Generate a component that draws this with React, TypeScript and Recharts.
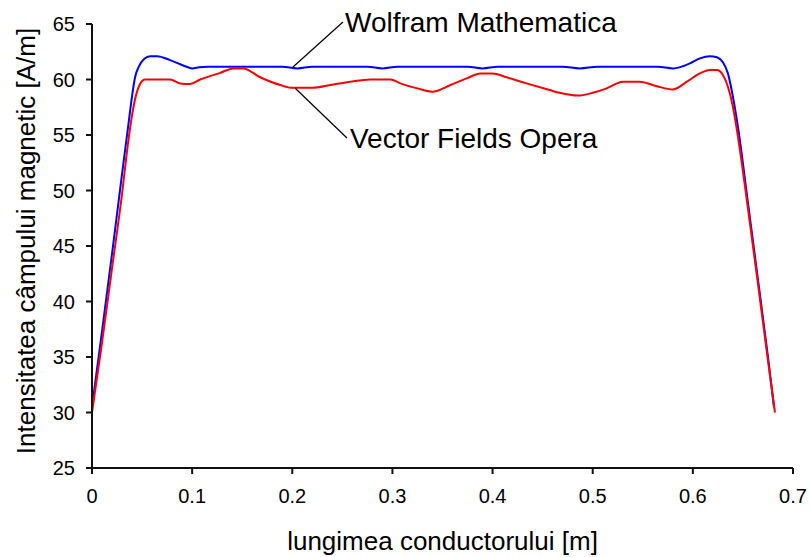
import {
  LineChart, Line, XAxis, YAxis, ReferenceLine, ReferenceDot, Label,
} from "recharts"

const FONT = "'Liberation Sans', Arial, sans-serif"

// Wolfram Mathematica (albastru)
const wolframX = [
  0, 0.01, 0.02, 0.03, 0.036, 0.04, 0.043, 0.047, 0.052, 0.058, 0.065, 0.078,
  0.093, 0.1, 0.107, 0.115, 0.19, 0.205, 0.22, 0.275, 0.29, 0.305, 0.375, 0.39,
  0.405, 0.47, 0.487, 0.505, 0.565, 0.58, 0.59, 0.597, 0.607, 0.617, 0.624,
  0.63, 0.635, 0.64, 0.645, 0.655, 0.665, 0.675, 0.681,
]
const wolframY = [
  30.5, 37.3, 44.3, 51.5, 55.7, 58.5, 60.2, 61.2, 61.85, 62.1, 62.1, 61.75,
  61.2, 61.0, 61.1, 61.15, 61.15, 61.0, 61.15, 61.15, 61.0, 61.15, 61.15, 61.0,
  61.15, 61.15, 61.0, 61.15, 61.15, 61.0, 61.2, 61.45, 61.9, 62.1, 62.0,
  61.55, 60.55, 58.45, 55.75, 48.9, 42.0, 35.0, 30.5,
]

// Vector Fields Opera (rosu)
const operaX = [
  0, 0.01, 0.02, 0.03, 0.036, 0.04, 0.044, 0.048, 0.053, 0.078, 0.088, 0.098,
  0.108, 0.128, 0.141, 0.151, 0.168, 0.188, 0.2, 0.22, 0.241, 0.258, 0.278,
  0.298, 0.308, 0.325, 0.34, 0.358, 0.374, 0.388, 0.4, 0.414, 0.434, 0.457,
  0.467, 0.485, 0.5, 0.514, 0.53, 0.547, 0.564, 0.58, 0.594, 0.607, 0.617,
  0.624, 0.63, 0.635, 0.64, 0.644, 0.655, 0.665, 0.675, 0.682,
]
const operaY = [
  30.0, 36.3, 43.0, 49.7, 54.3, 56.8, 58.6, 59.6, 60.0, 60.0, 59.65, 59.6,
  60.0, 60.6, 61.0, 61.0, 60.2, 59.5, 59.25, 59.25, 59.55, 59.8, 60.0,
  60.0, 59.65, 59.2, 58.9, 59.5, 60.1, 60.55, 60.55, 60.2, 59.65, 59.05,
  58.8, 58.55, 58.8, 59.2, 59.8, 59.8, 59.4, 59.1, 59.8, 60.55, 60.85,
  60.85, 60.4, 59.35, 57.55, 55.45, 48.4, 41.6, 34.7, 30.0,
]

const xTicks = [0, 0.1, 0.2, 0.3, 0.4, 0.5, 0.6, 0.7]
const yTicks = [25, 30, 35, 40, 45, 50, 55, 60, 65]

const wolframData = wolframX.map((x, i) => ({ x, v: wolframY[i] }))
const operaData = operaX.map((x, i) => ({ x, v: operaY[i] }))

const tickStyle = { fontSize: 20, fill: "#000", fontFamily: FONT }
const axisStroke = { stroke: "#111", strokeWidth: 2 }

export default function App() {
  return (
    <div style={{ position: "absolute", left: 0, top: 0, background: "#fff" }}>
      <LineChart width={810} height={557} margin={{ top: 24, right: 17, left: 0, bottom: 0 }}>
        <XAxis
          type="number" dataKey="x" domain={[0, 0.7]} ticks={xTicks}
          allowDuplicatedCategory={false}
          height={89} tickSize={6} tickMargin={15}
          tick={tickStyle} axisLine={axisStroke} tickLine={axisStroke}
        >
          <Label
            content={({ viewBox }: any) => (
              <text x={viewBox.x + viewBox.width / 2} y={viewBox.y + 82}
                textAnchor="middle" fontSize={26} fontFamily={FONT} fill="#000">
                lungimea conductorului [m]
              </text>
            )}
          />
        </XAxis>
        <YAxis
          type="number" domain={[25, 65]} ticks={yTicks} width={92}
          tickSize={6} tickMargin={11}
          tick={tickStyle} axisLine={axisStroke} tickLine={axisStroke}
        >
          <Label
            content={() => (
              <text x={35} y={241} transform="rotate(-90 35 241)"
                textAnchor="middle" fontSize={26} fontFamily={FONT} fill="#000">
                Intensitatea câmpului magnetic [A/m]
              </text>
            )}
          />
        </YAxis>

        <Line data={wolframData} dataKey="v" type="monotone" stroke="#0000FF"
          strokeWidth={2} dot={false} isAnimationActive={false} />
        <Line data={operaData} dataKey="v" type="monotone" stroke="#FF0000"
          strokeWidth={2} dot={false} isAnimationActive={false} />

        <ReferenceLine
          segment={[{ x: 0.2007, y: 61.13 }, { x: 0.2506, y: 65.18 }]}
          stroke="#000" strokeWidth={1.2} ifOverflow="visible"
        />
        <ReferenceLine
          segment={[{ x: 0.2027, y: 59.23 }, { x: 0.2546, y: 54.73 }]}
          stroke="#000" strokeWidth={1.2} ifOverflow="visible"
        />
        <ReferenceDot x={0.2506} y={65.18} r={0} ifOverflow="visible" fill="none" stroke="none"
          label={{ value: "Wolfram Mathematica", position: "right", offset: 2,
            fontSize: 28, fontFamily: FONT, fill: "#000" }} />
        <ReferenceDot x={0.2546} y={54.73} r={0} ifOverflow="visible" fill="none" stroke="none"
          label={{ value: "Vector Fields Opera", position: "right", offset: 3,
            fontSize: 28, fontFamily: FONT, fill: "#000" }} />
      </LineChart>
    </div>
  )
}
